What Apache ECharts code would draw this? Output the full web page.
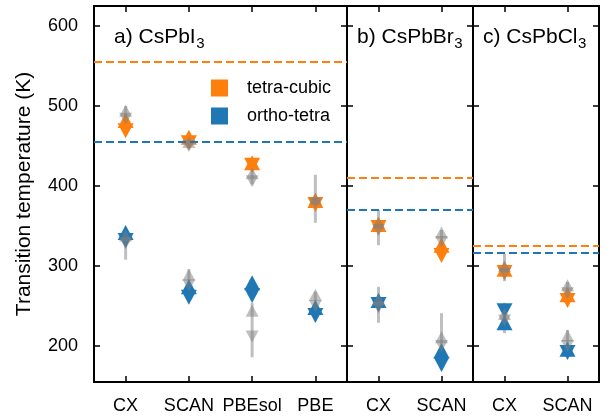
<!DOCTYPE html>
<html>
<head>
<meta charset="utf-8">
<script src="https://cdn.jsdelivr.net/npm/echarts@6/dist/echarts.min.js"></script>
<style>html,body{margin:0;padding:0;background:#fff}#c{width:613px;height:420px}</style>
</head>
<body>
<div id="c"></div>
<script>
// ---------- data ----------
const catsA = ['CX', 'SCAN', 'PBEsol', 'PBE'];
const catsB = ['CX', 'SCAN'];
const catsC = ['CX', 'SCAN'];
const yTicks = [200, 300, 400, 500, 600];

// CsPbI3
const I_tcUp = [482, 461, 429, 382];
const I_tcDown = [469, 454, 426, 377];
const I_otUp = [342, 274, 279, 248];
const I_otDown = [332, 261, 263, 238];
const I_tcGrayUp = [494, 455, 416, 384];
const I_tcGrayDown = [484, 450, 406, 378];
const I_tcErrLo = [474, 446, 402, 354];
const I_tcErrHi = [500, 460, 424, 414];
const I_otGrayUp = [338, 289, 244, 264];
const I_otGrayDown = [328, 276, 212, 250];
const I_otErrLo = [308, 272, 186, 240];
const I_otErrHi = [345, 296, 254, 268];
const I_exp = [555, 455];

// CsPbBr3
const Br_tcUp = [352, 326];
const Br_tcDown = [348, 313];
const Br_otUp = [257, 194];
const Br_otDown = [252, 177];
const Br_tcGrayUp = [354, 342];
const Br_tcGrayDown = [345, 330];
const Br_tcErrLo = [326, 318];
const Br_tcErrHi = [370, 345];
const Br_otGrayUp = [258, 211];
const Br_otGrayDown = [248, 200];
const Br_otErrLo = [229, 174];
const Br_otErrHi = [274, 241];
const Br_exp = [410, 370];

// CsPbCl3
const Cl_tcUp = [296, 264];
const Cl_tcDown = [292, 257];
const Cl_otUp = [229, 196];
const Cl_otDown = [244, 192];
const Cl_tcGrayUp = [300, 276];
const Cl_tcGrayDown = [290, 266];
const Cl_tcErrLo = [281, 262];
const Cl_tcErrHi = [315, 280];
const Cl_otGrayUp = [240, 213];
const Cl_otGrayDown = [232, 200];
const Cl_otErrLo = [216, 195];
const Cl_otErrHi = [254, 220];
const Cl_exp = [325, 316];

const titleMain = ['a) CsPbI', 'b) CsPbBr', 'c) CsPbCl'];
const titleSub = ['3', '3', '3'];

// ---------- build ----------
const ORANGE = '#ff7f0e', BLUE = '#1f77b4', GRAY = 'rgba(128,128,128,0.5)';
const FONT = 'Liberation Sans';
const panels = [
  {cats: catsA, tcUp: I_tcUp, tcDown: I_tcDown, otUp: I_otUp, otDown: I_otDown,
   tcGU: I_tcGrayUp, tcGD: I_tcGrayDown, tcLo: I_tcErrLo, tcHi: I_tcErrHi,
   otGU: I_otGrayUp, otGD: I_otGrayDown, otLo: I_otErrLo, otHi: I_otErrHi, exp: I_exp,
   left: 94, width: 253, tx: 114},
  {cats: catsB, tcUp: Br_tcUp, tcDown: Br_tcDown, otUp: Br_otUp, otDown: Br_otDown,
   tcGU: Br_tcGrayUp, tcGD: Br_tcGrayDown, tcLo: Br_tcErrLo, tcHi: Br_tcErrHi,
   otGU: Br_otGrayUp, otGD: Br_otGrayDown, otLo: Br_otErrLo, otHi: Br_otErrHi, exp: Br_exp,
   left: 347, width: 126, tx: 357},
  {cats: catsC, tcUp: Cl_tcUp, tcDown: Cl_tcDown, otUp: Cl_otUp, otDown: Cl_otDown,
   tcGU: Cl_tcGrayUp, tcGD: Cl_tcGrayDown, tcLo: Cl_tcErrLo, tcHi: Cl_tcErrHi,
   otGU: Cl_otGrayUp, otGD: Cl_otGrayDown, otLo: Cl_otErrLo, otHi: Cl_otErrHi, exp: Cl_exp,
   left: 473, width: 126, tx: 483}
];

const grids = [], xAxes = [], yAxes = [], series = [];
const tickStyle = {color: '#000', width: 1.5};
const TRI = [16, 15], GTRI = [13, 12];

panels.forEach((p, k) => {
  grids.push({left: p.left, width: p.width, top: 6, height: 376, show: true,
    borderColor: '#000', borderWidth: 2, containLabel: false});
  const xa = (pos, showLab) => ({
    type: 'category', gridIndex: k, position: pos, data: p.cats, boundaryGap: true,
    axisLine: {show: false}, splitLine: {show: false},
    axisTick: {show: true, inside: true, length: 6, alignWithLabel: true, interval: 0, lineStyle: tickStyle},
    axisLabel: {show: showLab, interval: 0, hideOverlap: false, fontSize: 18, fontFamily: FONT, color: '#000', margin: 15}
  });
  xAxes.push(xa('bottom', true), xa('top', false));
  const ya = (pos, showLab) => ({
    type: 'value', gridIndex: k, position: pos, min: 155, max: 625,
    axisLine: {show: false}, splitLine: {show: false},
    axisTick: {show: true, inside: true, length: 6, lineStyle: tickStyle, customValues: yTicks},
    axisLabel: {show: showLab, fontSize: 18, fontFamily: FONT, color: '#000', margin: 16, customValues: yTicks},
    name: (k === 0 && pos === 'left') ? 'Transition temperature (K)' : '',
    nameLocation: 'middle', nameGap: 59,
    nameTextStyle: {fontSize: 21, fontFamily: FONT, color: '#000'}
  });
  yAxes.push(ya('left', k === 0), ya('right', false));
  const xi = 2 * k, yi = 2 * k;
  const sc = (name, data, color, rot, size) => ({
    type: 'scatter', name: name, xAxisIndex: xi, yAxisIndex: yi,
    symbol: 'triangle', symbolSize: size, symbolRotate: rot,
    itemStyle: {color: color, opacity: 1}, silent: true, data: data
  });
  const idx = vals => vals.map((v, i) => [i, v]);
  const s1 = sc('tetra-cubic', idx(p.tcUp), ORANGE, 0, TRI);
  s1.markLine = {symbol: 'none', silent: true, label: {show: false},
    lineStyle: {color: ORANGE, type: [8, 4], width: 2, opacity: 1}, data: [{yAxis: p.exp[0]}]};
  const s3 = sc('ortho-tetra', idx(p.otUp), BLUE, 0, TRI);
  s3.markLine = {symbol: 'none', silent: true, label: {show: false},
    lineStyle: {color: BLUE, type: [8, 4], width: 2, opacity: 1}, data: [{yAxis: p.exp[1]}]};
  series.push(s1, sc('tetra-cubic', idx(p.tcDown), ORANGE, 180, TRI),
              s3, sc('ortho-tetra', idx(p.otDown), BLUE, 180, TRI));
  series.push(sc('gray', idx(p.tcGU).concat(idx(p.otGU)), GRAY, 0, GTRI));
  series.push(sc('gray', idx(p.tcGD).concat(idx(p.otGD)), GRAY, 180, GTRI));
  series.push({
    type: 'custom', name: 'err', xAxisIndex: xi, yAxisIndex: yi, silent: true,
    encode: {x: 0, y: [1, 2]},
    data: p.tcLo.map((v, i) => [i, v, p.tcHi[i]]).concat(p.otLo.map((v, i) => [i, v, p.otHi[i]])),
    renderItem: (params, api) => {
      const a = api.coord([api.value(0), api.value(1)]);
      const b = api.coord([api.value(0), api.value(2)]);
      return {type: 'line', shape: {x1: a[0], y1: a[1], x2: b[0], y2: b[1]},
        style: {stroke: GRAY, lineWidth: 3}};
    }
  });
});

// titles with subscripts
const cv = document.createElement('canvas').getContext('2d');
const MAINF = '21px "Liberation Sans"', SUBF = '15px "Liberation Sans"';
cv.font = MAINF;
const graphic = [];
panels.forEach((p, k) => {
  const w = cv.measureText(titleMain[k]).width;
  graphic.push({type: 'text', left: p.tx, top: 27, z: 100,
    style: {text: titleMain[k], font: MAINF, fill: '#000'}});
  graphic.push({type: 'text', left: p.tx + w + 0.5, top: 36, z: 100,
    style: {text: titleSub[k], font: SUBF, fill: '#000'}});
});

const chart = echarts.init(document.getElementById('c'), null, {renderer: 'canvas'});
chart.setOption({
  animation: false,
  grid: grids, xAxis: xAxes, yAxis: yAxes, series: series,
  legend: {
    data: [{name: 'tetra-cubic', icon: 'rect', itemStyle: {color: ORANGE, opacity: 1}},
           {name: 'ortho-tetra', icon: 'rect', itemStyle: {color: BLUE, opacity: 1}}],
    orient: 'vertical', left: 211, top: 79, itemWidth: 17, itemHeight: 17, itemGap: 10,
    padding: 0, selectedMode: false,
    textStyle: {fontSize: 18, fontFamily: FONT, color: '#000', padding: [0, 0, 0, 14]}
  },
  graphic: graphic
});
</script>
</body>
</html>
